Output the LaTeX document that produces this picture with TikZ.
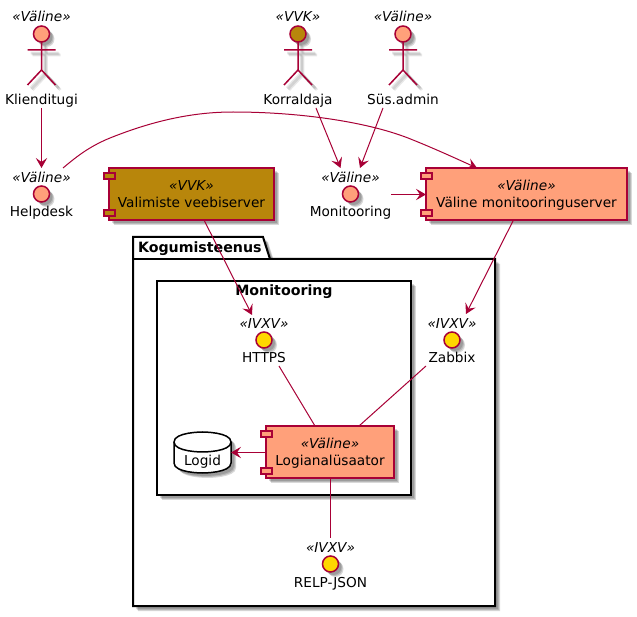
\documentclass[tikz,border=0pt]{standalone}
\usepackage{fontspec}
\setmainfont{DejaVu Sans}
\usetikzlibrary{arrows.meta}
\definecolor{umlline}{HTML}{A80036}
\definecolor{valine}{HTML}{FFA07A}
\definecolor{vvk}{HTML}{B8860B}
\definecolor{ivxv}{HTML}{FFD700}
\tikzset{
  x=.75pt,y=-.75pt,
  txt/.style={inner sep=0pt,outer sep=0pt,anchor=base,font=\fontsize{10.25}{12}\selectfont,text=black},
  stereo/.style={txt,font=\fontsize{10.25}{12}\selectfont\itshape},
  titlebold/.style={txt,font=\fontsize{10.65}{12}\selectfont\bfseries},
  umlshape/.style={draw=umlline,line width=1.125pt},
  frameline/.style={draw=black,line width=1.5pt,fill=white,line join=miter},
  shadefill/.style={fill=black,opacity=.15},
  shadeline/.style={draw=black,opacity=.09,line width=2pt},
  anchorbox/.style={inner sep=0pt,outer sep=0pt},
  conn/.style={draw=umlline,line width=.75pt},
  arr/.style={conn,-{Stealth[length=7.5pt,width=8.5pt,inset=3pt]}},
}
\newcommand{\softshade}[1]{\foreach \dd in {3,4,5}{\path[shift={(\dd,\dd)},shadefill] #1;}}
% name, x, colour, stereotype, label
\newcommand{\umlactor}[5]{%
  \foreach \dd in {3,4,5}{%
    \path[shift={(#2+\dd,\dd)},shadefill] (0,34) circle[radius=8];
    \path[shift={(#2+\dd,\dd)},shadeline] (0,42)--(0,70) (-14,50)--(14,50) (-14,85)--(0,70)--(14,85);
  }%
  \path[shift={(#2,0)},umlshape,fill=#3] (0,34) circle[radius=8];
  \path[shift={(#2,0)},umlshape] (0,42)--(0,70) (-14,50)--(14,50) (-14,85)--(0,70)--(14,85);
  \node[anchorbox,minimum width=54pt,minimum height=75pt] (#1) at (#2,58) {};
  \node[stereo] (#1-s) at (#2,21.5) {«#4»};
  \node[txt] (#1-l) at (#2,104.5) {#5};
}
% name, x, y(circle), colour, stereotype, label
\newcommand{\umliface}[6]{%
  \softshade{(#2,#3) circle[radius=8]}
  \path[umlshape,fill=#4] (#2,#3) circle[radius=8];
  \node[anchorbox,minimum width=45pt,minimum height=39pt] (#1) at (#2,#3) {};
  \pgfmathsetmacro\sty{#3-11.5}
  \pgfmathsetmacro\lby{#3+23}
  \node[stereo] (#1-s) at (#2,\sty) {«#5»};
  \node[txt] (#1-l) at (#2,\lby) {#6};
}
% name, x1, y1, x2, y2, colour, stereotype, label
\newcommand{\umlcomp}[8]{%
  \softshade{(#2,#3) rectangle (#4,#5)}
  \pgfmathsetmacro\cw{(#4-#2)*.75}
  \pgfmathsetmacro\ch{(#5-#3)*.75}
  \pgfmathsetmacro\cx{(#2+#4)/2}
  \pgfmathsetmacro\cy{(#3+#5)/2}
  \node[anchorbox,umlshape,fill=#6,minimum width=\cw pt,minimum height=\ch pt] (#1) at (\cx,\cy) {};
  \path[umlshape,line width=.8pt,fill=#6] (#2-5,#3+5) rectangle (#2+6,#3+11);
  \path[umlshape,line width=.8pt,fill=#6] (#2-5,#5-10) rectangle (#2+6,#5-4);
  \pgfmathsetmacro\sty{#3+23}
  \pgfmathsetmacro\lby{#3+39.5}
  \node[stereo] (#1-s) at (\cx,\sty) {«#7»};
  \node[txt] (#1-l) at (\cx,\lby) {#8};
}
\begin{document}
\begin{tikzpicture}
\useasboundingbox (0,0) rectangle (637,617);
\fill[white] (0,0) rectangle (637,617);

% package
\softshade{(133,237) -- (263,237) -- (270,259) -- (495,259) -- (495,606) -- (133,606) -- cycle}
\path[frameline] (133,237) -- (263,237) -- (270,259) -- (495,259) -- (495,606) -- (133,606) -- cycle;
\draw[black,line width=1.5pt] (133,259) -- (270,259);
\node[titlebold,anchor=base west] (kogu) at (138,253) {Kogumisteenus};

% inner frame
\softshade{(157,281) rectangle (411,495)}
\path[frameline] (157,281) rectangle (411,495);
\node[titlebold] (mon-t) at (284,296) {Monitooring};

% actors
\umlactor{kl}{41.5}{valine}{Väline}{Klienditugi}
\umlactor{ko}{298}{vvk}{VVK}{Korraldaja}
\umlactor{su}{403}{valine}{Väline}{Süs.admin}

% interfaces
\umliface{he}{41.5}{194}{valine}{Väline}{Helpdesk}
\umliface{mo}{350.5}{194}{valine}{Väline}{Monitooring}
\umliface{ht}{264}{340}{ivxv}{IVXV}{HTTPS}
\umliface{za}{452}{340}{ivxv}{IVXV}{Zabbix}
\umliface{re}{330.5}{564}{ivxv}{IVXV}{RELP-JSON}

% components
\umlcomp{vw}{109}{168}{274}{220}{vvk}{VVK}{Valimiste veebiserver}
\umlcomp{vm}{426}{168}{627}{220}{valine}{Väline}{Väline monitooringuserver}
\umlcomp{la}{266}{426}{394}{478}{valine}{Väline}{Logianalüsaator}

% database
\softshade{(174,442) .. controls (174,432) and (202.5,432) .. (202.5,432) .. controls (202.5,432) and (231,432) .. (231,442) -- (231,463) .. controls (231,473) and (202.5,473) .. (202.5,473) .. controls (202.5,473) and (174,473) .. (174,463) -- cycle}
\path[draw=black,line width=1.125pt,fill=white] (174,442) .. controls (174,432) and (202.5,432) .. (202.5,432) .. controls (202.5,432) and (231,432) .. (231,442) -- (231,463) .. controls (231,473) and (202.5,473) .. (202.5,473) .. controls (202.5,473) and (174,473) .. (174,463) -- cycle;
\draw[black,line width=1.125pt] (174,442) .. controls (174,452) and (202.5,452) .. (202.5,452) .. controls (202.5,452) and (231,452) .. (231,442);
\node[anchorbox,minimum width=42.75pt,minimum height=30.75pt] (ld) at (202.5,452.5) {};
\node[txt] (ld-l) at (202.5,465) {Logid};

% connectors
\draw[arr] (kl.south) -- (he.north);
\draw[arr] ([shift={(18,0)}]ko.south) -- ([shift={(-10,0)}]mo.north);
\draw[arr] ([shift={(-20,0)}]su.south) -- ([shift={(9.5,0)}]mo.north);
\draw[arr] ([shift={(10.5,.5)}]mo.east) -- ([shift={(0,.5)}]vm.west);
\draw[arr] ([shift={(21.5,0)}]he.north) .. controls (75,158) and (88,147) .. (110,138) .. controls (150,122) and (190,112) .. (233,112) .. controls (300,112) and (370,122) .. (413,140) .. controls (433,148) and (455,158) .. ([shift={(-49.5,0)}]vm.north);
\draw[arr] ([shift={(12.5,0)}]vw.south) -- ([shift={(-12,1)}]ht.north);
\draw[arr] ([shift={(-13,0)}]vm.south) -- ([shift={(14,0)}]za.north);
\draw[conn] ([shift={(15,0)}]ht.south) -- ([shift={(-15,0)}]la.north);
\draw[conn] ([shift={(-26,0)}]za.south) -- ([shift={(29,0)}]la.north);
\draw[arr] ([shift={(0,.5)}]la.west) -- (ld.east);
\draw[conn] ([shift={(.5,0)}]la.south) -- (re.north);
\end{tikzpicture}
\end{document}
